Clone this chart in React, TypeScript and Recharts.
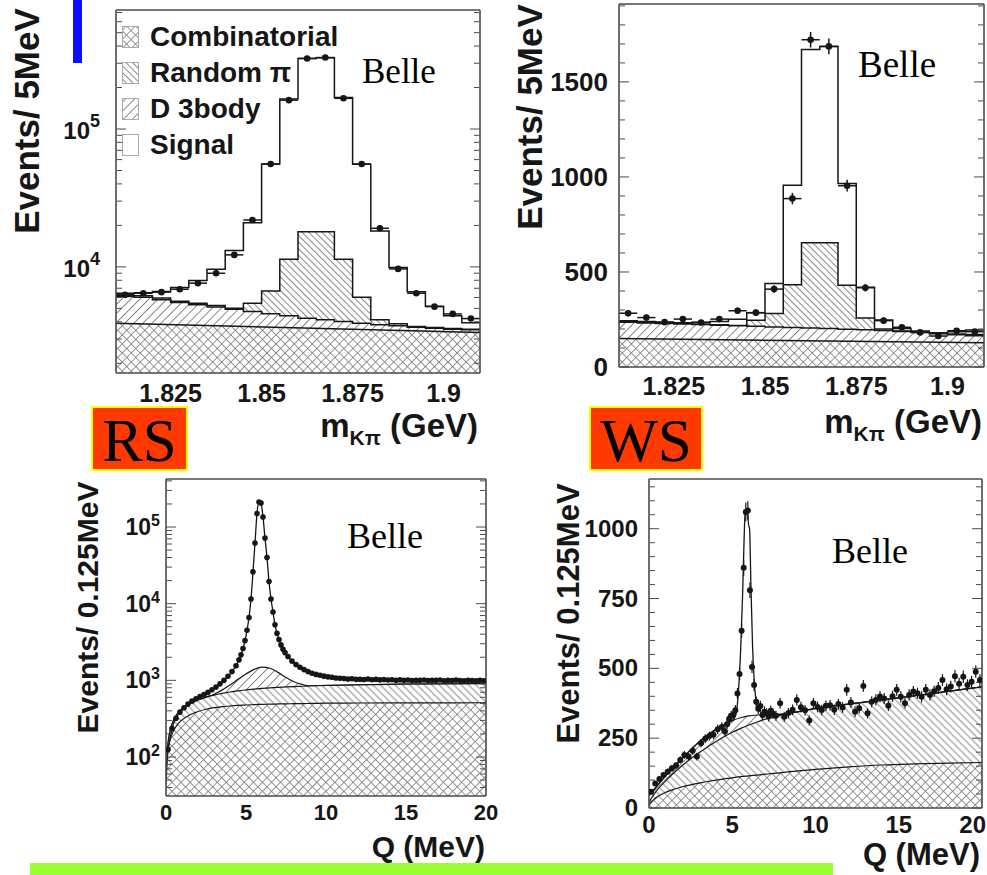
import { Area, ComposedChart, ErrorBar, Legend, Line, Scatter, XAxis, YAxis } from "recharts";

const SANS = '"Liberation Sans", Arial, Helvetica, sans-serif';
const SERIF = '"Liberation Serif", "Times New Roman", Times, serif';
const INK = "#161616";
const FRAME = "#4a4a4a";
const HATCH = "#7c7c7c";

// ---- m(K pi) panels: 5 MeV bins between 1.81 and 1.91 GeV
const massEdges = [1.81, 1.815, 1.82, 1.825, 1.83, 1.835, 1.84, 1.845, 1.85, 1.855, 1.86, 1.865, 1.87, 1.875, 1.88, 1.885, 1.89, 1.895, 1.9, 1.905];
const massCenters = [1.8125, 1.8175, 1.8225, 1.8275, 1.8325, 1.8375, 1.8425, 1.8475, 1.8525, 1.8575, 1.8625, 1.8675, 1.8725, 1.8775, 1.8825, 1.8875, 1.8925, 1.8975, 1.9025, 1.9075];
const massDomain = [1.81, 1.91];
const massHalfBin = 0.0025;
const massTicks = [1.825, 1.85, 1.875, 1.9];
const massMinorTicks = [1.815, 1.82, 1.83, 1.835, 1.84, 1.845, 1.855, 1.86, 1.865, 1.87, 1.88, 1.885, 1.89, 1.895, 1.905];

// RS, log scale
const rsMassTotal = [6450, 6500, 6620, 7080, 7960, 9620, 13130, 20900, 55700, 165000, 325000, 329000, 169000, 55500, 18200, 9890, 6600, 5180, 4420, 3930];
const rsMassRandomPi = [6240, 6170, 5960, 5640, 5460, 5250, 5010, 5460, 6700, 11380, 18000, 18000, 11380, 6030, 4130, 3870, 3690, 3630, 3570, 3535];
const rsMassD3body = [6095, 6030, 5770, 5520, 5310, 5110, 4940, 4750, 4570, 4420, 4250, 4130, 4020, 3910, 3800, 3740, 3650, 3590, 3535, 3495];
const rsMassComb = [3910, 3340]; // at 1.81 and 1.91
const rsMassData = [6270, 6440, 6560, 6890, 7620, 8990, 12220, 21900, 55700, 162000, 325000, 330000, 167000, 55700, 19060, 9670, 6440, 5150, 4560, 4220];
const rsMassDomain = [1700, 730000];
const rsMassYTicks = [10000, 100000];
const rsMassYMinor = [2000, 3000, 4000, 5000, 6000, 7000, 8000, 9000, 20000, 30000, 40000, 50000, 60000, 70000, 80000, 90000, 200000, 300000, 400000, 500000, 600000, 700000];

// WS, linear scale
const wsMassTotal = [244, 240, 236, 233, 235, 240, 251, 286, 440, 956, 1670, 1687, 965, 419, 247, 202, 190, 180, 186, 195];
const wsMassRandomPi = [238, 234, 231, 228, 225, 222, 219, 246, 282, 433, 654, 654, 430, 258, 200, 190, 184, 178, 174, 171];
const wsMassD3body = [236, 232, 229, 226, 223, 220, 217, 214, 211, 208, 205, 202, 199, 196, 192, 187, 181, 175, 170, 165];
const wsMassComb = [150, 128]; // at 1.81 and 1.91
const wsMassData = [283, 260, 236, 252, 234, 252, 296, 286, 410, 886, 1722, 1687, 954, 417, 244, 209, 182, 163, 191, 186];
const wsMassErr = [17, 16, 15, 16, 15, 16, 17, 17, 20, 30, 41, 41, 31, 20, 16, 14, 13, 13, 14, 14];
const wsMassDomain = [0, 1910];
const wsMassYTicks = [0, 500, 1000, 1500];
const wsMassYMinor = [100, 200, 300, 400, 600, 700, 800, 900, 1100, 1200, 1300, 1400, 1600, 1700, 1800, 1900];

// ---- Q panels: 0 to 20 MeV
const qDomain = [0, 20];
const qTicks = [0, 5, 10, 15, 20];
const qMinorTicks = [1, 2, 3, 4, 6, 7, 8, 9, 11, 12, 13, 14, 16, 17, 18, 19];
const qBins = [
  0.125, 0.375, 0.625, 0.875, 1.125, 1.375, 1.625, 1.875, 2.125, 2.375, 2.625, 2.875, 3.125, 3.375, 3.625, 3.875, 4.125, 4.375,
  4.5625, 4.6875, 4.8125, 4.9375, 5.0625, 5.1875, 5.3125, 5.4375, 5.5625, 5.6875, 5.8125, 5.9375, 6.0625, 6.1875, 6.3125, 6.4375, 6.5625, 6.6875, 6.8125, 6.9375, 7.0625, 7.1875, 7.3125, 7.4375,
  7.625, 7.875, 8.125, 8.375, 8.625, 8.875, 9.125, 9.375, 9.625, 9.875, 10.125, 10.375, 10.625, 10.875, 11.125, 11.375, 11.625, 11.875, 12.125, 12.375,
  12.625, 12.875, 13.125, 13.375, 13.625, 13.875, 14.125, 14.375, 14.625, 14.875, 15.125, 15.375, 15.625, 15.875, 16.125, 16.375, 16.625, 16.875, 17.125, 17.375,
  17.625, 17.875, 18.125, 18.375, 18.625, 18.875, 19.125, 19.375, 19.625, 19.875,
];

// RS Q, log scale
const rsQData = [
  125, 235, 320, 385, 440, 490, 535, 575, 615, 655, 700, 755, 820, 900, 1000, 1130, 1300, 1550,
  1850, 2150, 2600, 3300, 4500, 6600, 11500, 26000, 62000, 150000, 212000, 205000, 135000, 72000, 40000, 19500, 11500, 7800, 5300, 4100, 3400, 2900, 2550, 2300,
  2050, 1780, 1610, 1480, 1380, 1300, 1240, 1195, 1165, 1135, 1110, 1095, 1075, 1062, 1055, 1040, 1050, 1030, 1035, 1025,
  1040, 1020, 1030, 1015, 1025, 1010, 1020, 1005, 1015, 1000, 1010, 995, 1005, 1000, 1012, 995, 1005, 998, 1010, 990,
  1002, 995, 1008, 992, 985, 1000, 995, 985, 1005, 990,
];
const rsCurveQ = [0, 0.125, 0.25, 0.5, 0.75, 1, 1.5, 2, 2.5, 3, 3.5, 4, 4.5, 5, 5.5, 6, 6.5, 7, 7.5, 8, 8.5, 9, 10, 12, 15, 20];
const rsQComb = [45, 120, 165, 225, 270, 305, 355, 392, 420, 440, 453, 463, 471, 477, 482, 486, 489, 492, 494, 496, 498, 500, 503, 506, 508, 510];
const rsQRandomPi = [60, 150, 215, 310, 375, 425, 500, 555, 600, 640, 675, 705, 730, 750, 768, 784, 798, 810, 820, 830, 838, 845, 856, 872, 890, 905];
const rsQBump = [60, 150, 215, 310, 375, 425, 500, 555, 605, 660, 745, 870, 1030, 1210, 1390, 1490, 1440, 1270, 1090, 960, 885, 848, 858, 872, 890, 905];
const rsQDomain = [31, 423000];
const rsQYTicks = [100, 1000, 10000, 100000];
const rsQYMinor = [40, 50, 60, 70, 80, 90, 200, 300, 400, 500, 600, 700, 800, 900, 2000, 3000, 4000, 5000, 6000, 7000, 8000, 9000, 20000, 30000, 40000, 50000, 60000, 70000, 80000, 90000, 200000, 300000, 400000];

// WS Q, linear scale
const wsQData = [
  58, 88, 104, 118, 130, 142, 152, 172, 190, 184, 205, 184, 232, 248, 258, 262, 282, 290,
  274, 300, 320, 330, 335, 350, 410, 480, 635, 860, 1060, 1065, 780, 505, 440, 380, 355, 365, 333, 345, 339, 328, 348, 338,
  330, 375, 327, 340, 352, 387, 361, 350, 313, 375, 362, 351, 366, 368, 352, 372, 360, 423, 378, 345,
  357, 437, 339, 380, 387, 399, 392, 366, 400, 423, 398, 375, 405, 417, 411, 398, 423, 405, 418, 430,
  458, 425, 435, 472, 445, 470, 440, 452, 488, 458,
];
const wsQErr = [
  8, 9, 10, 11, 11, 12, 12, 13, 14, 14, 14, 14, 15, 16, 16, 16, 17, 17,
  17, 17, 18, 18, 18, 19, 20, 22, 25, 29, 33, 33, 28, 22, 21, 19, 19, 19, 18, 19, 18, 18, 19, 18,
  18, 19, 18, 18, 19, 20, 19, 19, 18, 19, 19, 19, 19, 19, 19, 19, 19, 21, 19, 19,
  19, 21, 18, 19, 20, 20, 20, 19, 20, 21, 20, 19, 20, 20, 20, 20, 21, 20, 20, 21,
  21, 21, 21, 22, 21, 22, 21, 21, 22, 21,
];
const wsCurveQ = [0, 0.25, 0.5, 1, 1.5, 2, 2.5, 3, 3.5, 4, 4.5, 5, 5.5, 6, 6.5, 7, 7.5, 8, 9, 10, 12, 14, 16, 18, 20];
const wsQComb = [12, 28, 40, 56, 67, 76, 83, 89, 95, 100, 104, 108, 112, 115, 118, 121, 124, 127, 133, 138, 147, 154, 158, 161, 163];
const wsQRandomPi = [20, 45, 65, 97, 126, 152, 176, 198, 218, 237, 255, 271, 285, 297, 308, 318, 326, 333, 345, 357, 372, 387, 402, 418, 434];
const wsQBump = [45, 62, 80, 115, 147, 178, 208, 236, 260, 281, 299, 313, 323, 330, 333, 334, 334, 336, 345, 357, 372, 387, 402, 418, 434];
const wsFitQ = [0, 0.5, 1, 1.5, 2, 2.5, 3, 3.5, 4, 4.5, 5, 5.2, 5.35, 5.5, 5.62, 5.72, 5.78, 5.9, 5.98, 6.04, 6.12, 6.22, 6.35, 6.5, 6.75, 7, 7.5, 8, 9, 10, 12, 14, 16, 18, 20];
const wsQFit = [45, 80, 115, 147, 178, 208, 236, 260, 281, 299, 313, 330, 400, 560, 760, 980, 1065, 1068, 1015, 1000, 800, 580, 430, 365, 340, 334, 334, 336, 345, 357, 372, 387, 402, 418, 434];
const wsQDomain = [0, 1178];
const wsQYTicks = [0, 250, 500, 750, 1000];
const wsQYMinor = [50, 100, 150, 200, 300, 350, 400, 450, 550, 600, 650, 700, 800, 850, 900, 950, 1050, 1100, 1150];

const legendItems = [
  { name: "Combinatorial", fill: "url(#rsm-cross)" },
  { name: "Random \u03c0", fill: "url(#rsm-back)" },
  { name: "D 3body", fill: "url(#rsm-fwd)" },
  { name: "Signal", fill: "#fff" },
];

const steps = (vals: number[]) => [...massEdges.map((x, i) => ({ x, y: vals[i] })), { x: massDomain[1], y: vals[vals.length - 1] }];
const pts = (xs: number[], ys: number[], errs?: number[], ex = 0) => xs.map((x, i) => ({ x, y: ys[i], ey: errs ? errs[i] : 0, ex }));

const blank = () => <g />;
const dot = (r: number) => (p: any) => <circle cx={p.cx} cy={p.cy} r={r} fill={INK} />;

// right: keep a label from running past the chart's right edge
const numTick = (size: number, dy: number, anchor: "middle" | "end", right = Infinity) => (p: any) => {
  const half = String(p.payload.value).length * size * 0.28;
  const clamp = anchor === "middle" && p.x + half > right;
  return (
    <text x={clamp ? right : p.x} y={p.y + dy} textAnchor={clamp ? "end" : anchor} fontFamily={SANS} fontWeight="bold" fontSize={size} fill={INK}>
      {p.payload.value}
    </text>
  );
};

const powTick = (size: number, sup: number, base: number, raise: number) => (p: any) => (
  <text x={p.x} y={p.y + base} textAnchor="end" fontFamily={SANS} fontWeight="bold" fontSize={size} fill={INK}>
    10<tspan dy={-raise} fontSize={sup}>{Math.round(Math.log10(p.payload.value))}</tspan>
  </text>
);

const yTitle = (text: string, cx: number, cy: number, size: number) => () => (
  <text transform={`translate(${cx},${cy}) rotate(-90)`} textAnchor="middle" dominantBaseline="central" fontFamily={SANS} fontWeight="bold" fontSize={size} fill={INK}>
    {text}
  </text>
);

const massTitle = (xEnd: number, y: number) => () => (
  <text x={xEnd} y={y} textAnchor="end" fontFamily={SANS} fontWeight="bold" fontSize={33} fill={INK}>
    m<tspan fontSize={21} dy={8}>K{"\u03c0"}</tspan><tspan dy={-8}> (GeV)</tspan>
  </text>
);

const qTitle = (xEnd: number, y: number, size: number) => () => (
  <text x={xEnd} y={y} textAnchor="end" fontFamily={SANS} fontSize={size} fontWeight="bold" fill={INK}>
    Q (MeV)
  </text>
);

const belle = (x: number, y: number, size: number) => () => (
  <text x={x} y={y} fontFamily={SERIF} fontSize={size} fill="#000">
    Belle
  </text>
);

function hatchDefs(id: string, back: number, fwd: number, cross: number) {
  return (
    <defs>
      <pattern id={`${id}-back`} width={back} height={back} patternUnits="userSpaceOnUse" patternTransform="rotate(-45)">
        <rect width={back} height={back} fill="#fff" />
        <path d={`M${back / 2} 0V${back}`} stroke={HATCH} strokeWidth={0.9} />
      </pattern>
      <pattern id={`${id}-fwd`} width={fwd} height={fwd} patternUnits="userSpaceOnUse" patternTransform="rotate(45)">
        <rect width={fwd} height={fwd} fill="#fff" />
        <path d={`M${fwd / 2} 0V${fwd}`} stroke={HATCH} strokeWidth={0.9} />
      </pattern>
      <pattern id={`${id}-cross`} width={cross} height={cross} patternUnits="userSpaceOnUse" patternTransform="rotate(45)">
        <rect width={cross} height={cross} fill="#fff" />
        <path d={`M${cross / 2} 0V${cross}M0 ${cross / 2}H${cross}`} stroke={HATCH} strokeWidth={0.8} />
      </pattern>
    </defs>
  );
}

// inward ROOT-style frame: four mirrored 1px axes carrying only tick marks
function frameAxes(xDomain: number[], xMajor: number[], xMinor: number[], yDomain: number[], yMajor: number[], yMinor: number[], yScale: "log" | "linear", label?: () => any) {
  const edge = { stroke: FRAME, strokeWidth: 1.6 };
  const mark = { stroke: FRAME, strokeWidth: 1 };
  const base = { type: "number" as const, allowDataOverflow: true, mirror: true, interval: 0 as const, tick: blank, tickLine: mark };
  return [
    <XAxis key="ft" xAxisId="ft" orientation="top" height={1} domain={xDomain} ticks={xMajor} tickSize={9} axisLine={edge} label={label} {...base} />,
    <XAxis key="ftm" xAxisId="ftm" orientation="top" height={1} domain={xDomain} ticks={xMinor} tickSize={4} axisLine={false} {...base} />,
    <XAxis key="fb" xAxisId="fb" orientation="bottom" height={1} domain={xDomain} ticks={xMajor} tickSize={9} axisLine={edge} {...base} />,
    <XAxis key="fbm" xAxisId="fbm" orientation="bottom" height={1} domain={xDomain} ticks={xMinor} tickSize={4} axisLine={false} {...base} />,
    <YAxis key="fl" yAxisId="fl" orientation="left" width={1} scale={yScale} domain={yDomain} ticks={yMajor} tickSize={10} axisLine={edge} {...base} />,
    <YAxis key="flm" yAxisId="flm" orientation="left" width={1} scale={yScale} domain={yDomain} ticks={yMinor} tickSize={5} axisLine={false} {...base} />,
    <YAxis key="fr" yAxisId="fr" orientation="right" width={1} scale={yScale} domain={yDomain} ticks={yMajor} tickSize={10} axisLine={edge} {...base} />,
    <YAxis key="frm" yAxisId="frm" orientation="right" width={1} scale={yScale} domain={yDomain} ticks={yMinor} tickSize={5} axisLine={false} {...base} />,
  ];
}

const legendContent = () => (
  <div style={{ fontFamily: SANS, fontWeight: "bold", fontSize: 28, color: INK, lineHeight: "32px" }}>
    {legendItems.map((it) => (
      <div key={it.name} style={{ display: "flex", alignItems: "center", height: 36, whiteSpace: "nowrap" }}>
        <svg width={17} height={22} style={{ marginRight: 11, flex: "none" }}>
          <rect x={0.5} y={0.5} width={16} height={21} fill={it.fill} stroke="#aaa" />
        </svg>
        <span>{it.name}</span>
      </div>
    ))}
  </div>
);

const histLine = { stroke: INK, strokeWidth: 1.5, fillOpacity: 1, isAnimationActive: false, dot: false, activeDot: false } as const;
const curveLine = { stroke: INK, strokeWidth: 1.2, fillOpacity: 1, isAnimationActive: false, dot: false, activeDot: false } as const;

function RsMass() {
  return (
    <ComposedChart width={490} height={450} margin={{ top: 10, right: 10, bottom: 37, left: 0 }}>
      {hatchDefs("rsm", 4.7, 6.4, 6.4)}
      <Area data={steps(rsMassTotal)} dataKey="y" type="stepAfter" fill="#fff" {...histLine} />
      <Area data={steps(rsMassRandomPi)} dataKey="y" type="stepAfter" fill="url(#rsm-back)" {...histLine} />
      <Area data={steps(rsMassD3body)} dataKey="y" type="stepAfter" fill="url(#rsm-fwd)" {...histLine} />
      <Area data={pts(massDomain, rsMassComb)} dataKey="y" type="linear" fill="url(#rsm-cross)" {...histLine} />
      <Scatter data={pts(massCenters, rsMassData, undefined, massHalfBin)} dataKey="y" shape={dot(3.3)} isAnimationActive={false}>
        <ErrorBar dataKey="ex" direction="x" width={0} stroke={INK} strokeWidth={1.5} />
      </Scatter>
      <XAxis dataKey="x" type="number" domain={massDomain} allowDataOverflow ticks={massTicks} interval={0} height={40} tickSize={0} tickMargin={0} axisLine={false} tick={numTick(25, 29, "middle")} label={massTitle(478, 437)} />
      <YAxis dataKey="y" type="number" scale="log" domain={rsMassDomain} allowDataOverflow ticks={rsMassYTicks} interval={0} width={116} tickSize={0} tickMargin={16} axisLine={false} tick={powTick(24, 18, 10, 12)} label={yTitle("Events/ 5MeV", 26, 121, 35)} />
      {frameAxes(massDomain, massTicks, massMinorTicks, rsMassDomain, rsMassYTicks, rsMassYMinor, "log", belle(362, 83, 35))}
      <Legend layout="vertical" align="center" verticalAlign="middle" wrapperStyle={{ left: 122, top: 19, width: "auto", height: "auto" }} content={legendContent} />
    </ComposedChart>
  );
}

function WsMass() {
  return (
    <ComposedChart width={487} height={450} margin={{ top: 4, right: 3, bottom: 43, left: 0 }}>
      {hatchDefs("wsm", 4.7, 6.4, 6.4)}
      <Area data={steps(wsMassTotal)} dataKey="y" type="stepAfter" fill="#fff" {...histLine} />
      <Area data={steps(wsMassRandomPi)} dataKey="y" type="stepAfter" fill="url(#wsm-back)" {...histLine} />
      <Area data={steps(wsMassD3body)} dataKey="y" type="stepAfter" fill="url(#wsm-fwd)" {...histLine} />
      <Area data={pts(massDomain, wsMassComb)} dataKey="y" type="linear" fill="url(#wsm-cross)" {...histLine} />
      <Scatter data={pts(massCenters, wsMassData, wsMassErr, massHalfBin)} dataKey="y" shape={dot(3.3)} isAnimationActive={false}>
        <ErrorBar dataKey="ex" direction="x" width={0} stroke={INK} strokeWidth={1.5} />
        <ErrorBar dataKey="ey" direction="y" width={0} stroke={INK} strokeWidth={1.5} />
      </Scatter>
      <XAxis dataKey="x" type="number" domain={massDomain} allowDataOverflow ticks={massTicks} interval={0} height={40} tickSize={0} tickMargin={0} axisLine={false} tick={numTick(25, 28, "middle")} label={massTitle(482, 433)} />
      <YAxis dataKey="y" type="number" domain={wsMassDomain} allowDataOverflow ticks={wsMassYTicks} interval={0} width={119} tickSize={0} tickMargin={11} axisLine={false} tick={numTick(26, 9, "end")} label={yTitle("Events/ 5MeV", 29, 117, 35)} />
      {frameAxes(massDomain, massTicks, massMinorTicks, wsMassDomain, wsMassYTicks, wsMassYMinor, "linear", belle(358, 77, 37))}
    </ComposedChart>
  );
}

function RsQ() {
  return (
    <ComposedChart width={500} height={405} margin={{ top: 9, right: 14, bottom: 39, left: 0 }}>
      {hatchDefs("rsq", 5.2, 6.4, 6.4)}
      <Area data={pts(rsCurveQ, rsQBump)} dataKey="y" type="monotone" fill="url(#rsq-fwd)" {...curveLine} />
      <Area data={pts(rsCurveQ, rsQRandomPi)} dataKey="y" type="monotone" fill="url(#rsq-back)" {...curveLine} />
      <Area data={pts(rsCurveQ, rsQComb)} dataKey="y" type="monotone" fill="url(#rsq-cross)" {...curveLine} />
      <Line data={pts(qBins, rsQData)} dataKey="y" type="monotone" stroke={INK} strokeWidth={1.3} dot={false} activeDot={false} isAnimationActive={false} />
      <Scatter data={pts(qBins, rsQData)} dataKey="y" shape={dot(2.8)} isAnimationActive={false} />
      <XAxis dataKey="x" type="number" domain={qDomain} allowDataOverflow ticks={qTicks} interval={0} height={40} tickSize={0} tickMargin={0} axisLine={false} tick={numTick(22, 24, "middle")} label={qTitle(485, 387, 30)} />
      <YAxis dataKey="y" type="number" scale="log" domain={rsQDomain} allowDataOverflow ticks={rsQYTicks} interval={0} width={166} tickSize={0} tickMargin={6} axisLine={false} tick={powTick(23, 16, 8, 9)} label={yTitle("Events/ 0.125MeV", 87, 137.5, 30)} />
      {frameAxes(qDomain, qTicks, qMinorTicks, rsQDomain, rsQYTicks, rsQYMinor, "log", belle(347, 78, 36))}
    </ComposedChart>
  );
}

function WsQ() {
  return (
    <ComposedChart width={487} height={405} margin={{ top: 9, right: 5, bottom: 27, left: 0 }}>
      {hatchDefs("wsq", 5.2, 6.4, 6.4)}
      <Area data={pts(wsCurveQ, wsQBump)} dataKey="y" type="monotone" fill="url(#wsq-fwd)" {...curveLine} />
      <Area data={pts(wsCurveQ, wsQRandomPi)} dataKey="y" type="monotone" fill="url(#wsq-back)" {...curveLine} />
      <Area data={pts(wsCurveQ, wsQComb)} dataKey="y" type="monotone" fill="url(#wsq-cross)" {...curveLine} />
      <Line data={pts(wsFitQ, wsQFit)} dataKey="y" type="monotone" stroke={INK} strokeWidth={1.3} dot={false} activeDot={false} isAnimationActive={false} />
      <Scatter data={pts(qBins, wsQData, wsQErr)} dataKey="y" shape={dot(3)} isAnimationActive={false}>
        <ErrorBar dataKey="ey" direction="y" width={0} stroke={INK} strokeWidth={1.2} />
      </Scatter>
      <XAxis dataKey="x" type="number" domain={qDomain} allowDataOverflow ticks={qTicks} interval={0} height={40} tickSize={0} tickMargin={0} axisLine={false} tick={numTick(24, 25, "middle", 486)} label={qTitle(480, 395, 31)} />
      <YAxis dataKey="y" type="number" domain={wsQDomain} allowDataOverflow ticks={wsQYTicks} interval={0} width={149} tickSize={0} tickMargin={11} axisLine={false} tick={numTick(24, 8, "end")} label={yTitle("Events/ 0.125MeV", 68, 143.5, 31)} />
      {frameAxes(qDomain, qTicks, qMinorTicks, wsQDomain, wsQYTicks, wsQYMinor, "linear", belle(332, 93, 36))}
    </ComposedChart>
  );
}

const tag = (text: string, left: number, width: number) => (
  <div
    style={{
      position: "absolute", left, top: 406, width, height: 65, boxSizing: "border-box",
      background: "#ff3a00", border: "2px solid #ffff00", textAlign: "center",
      fontFamily: SERIF, fontSize: 61, lineHeight: "61px", color: "#000", paddingTop: 2,
    }}
  >
    {text}
  </div>
);

export default function App() {
  return (
    <div style={{ position: "absolute", left: 0, top: 0, width: 987, height: 875, background: "#fff", overflow: "hidden" }}>
      <div style={{ position: "absolute", left: 0, top: 0 }}><RsMass /></div>
      <div style={{ position: "absolute", left: 500, top: 0 }}><WsMass /></div>
      <div style={{ position: "absolute", left: 0, top: 470 }}><RsQ /></div>
      <div style={{ position: "absolute", left: 500, top: 470 }}><WsQ /></div>
      <div style={{ position: "absolute", left: 73, top: 0, width: 9, height: 63, background: "#0b0bff" }} />
      {tag("RS", 91, 97)}
      {tag("WS", 589, 114)}
      <div style={{ position: "absolute", left: 30, top: 863, width: 803, height: 12, background: "#99ff33" }} />
    </div>
  );
}
